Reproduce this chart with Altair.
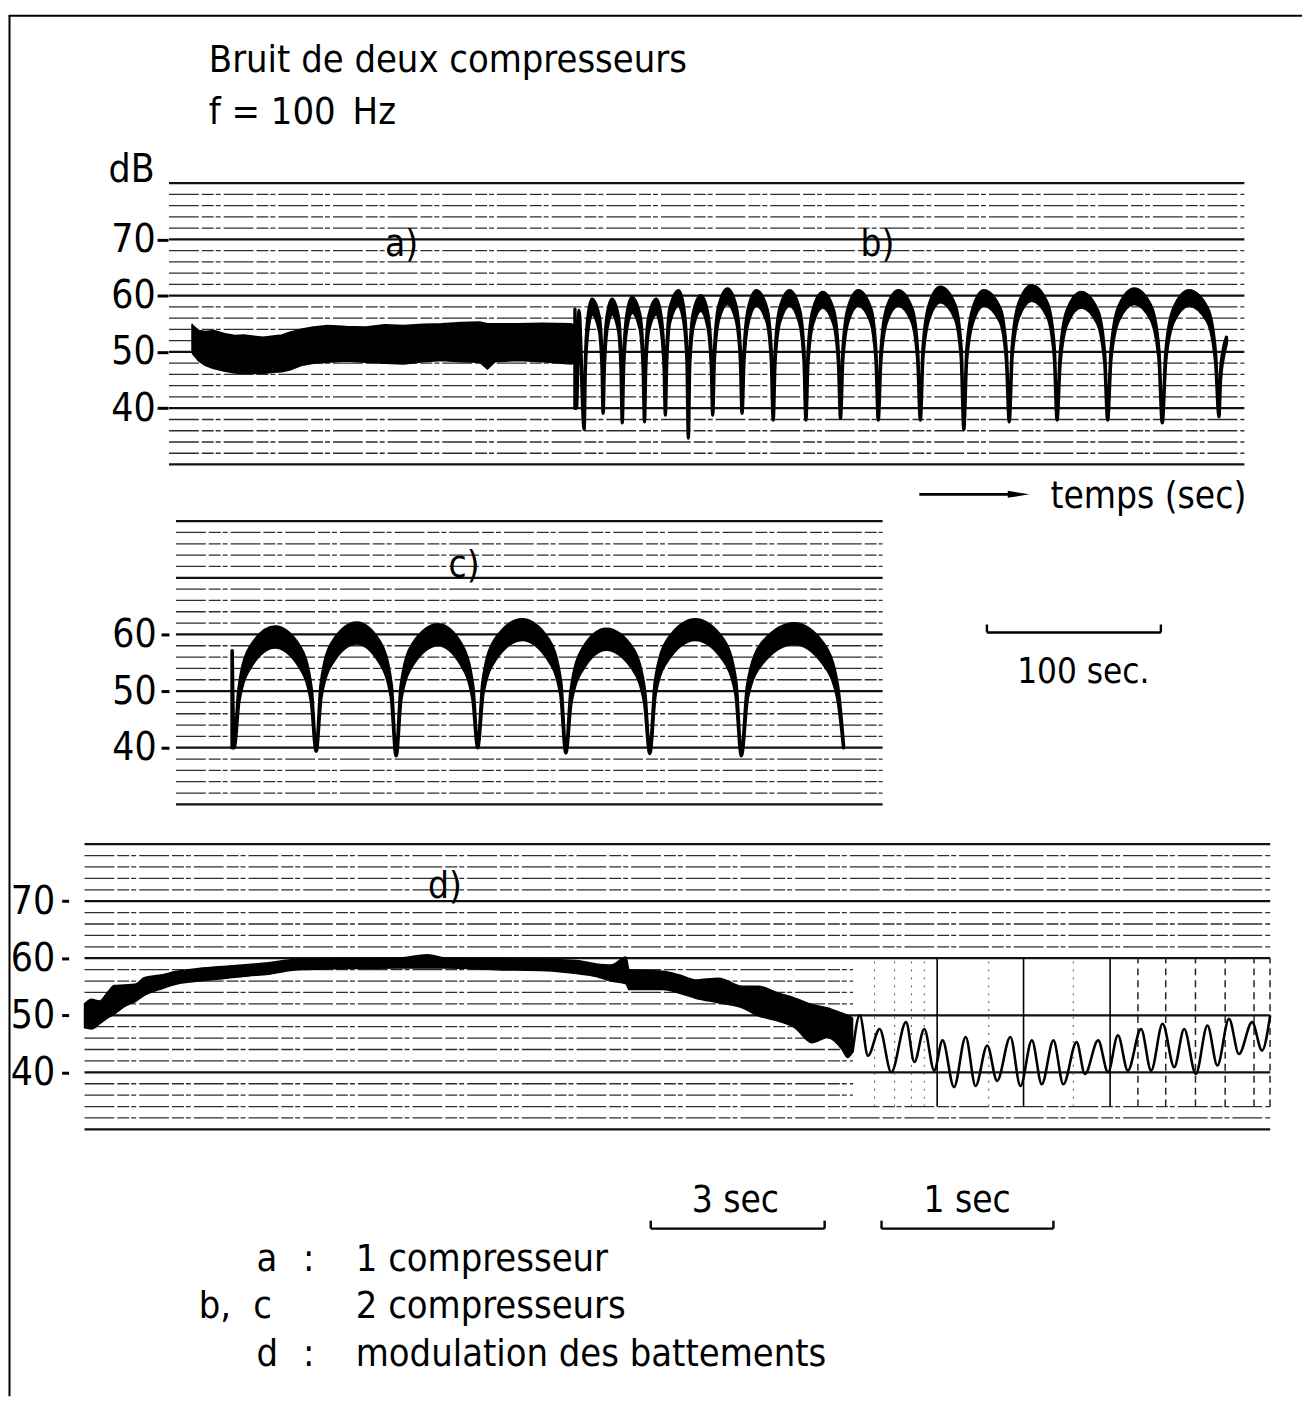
import altair as alt
import pandas as pd

FONT = "DejaVu Sans Condensed"
W, H = 1302, 1392

# ---------------- values ----------------
MAJOR_DB = [30, 40, 50, 60, 70, 80]
MINOR_DB = [32, 34, 36, 38, 42, 44, 46, 48, 52, 54, 56, 58, 62, 64, 66, 68, 72, 74, 76, 78]
D_MINOR_FULL = [32, 34, 62, 64, 66, 68, 72, 74, 76, 78]
D_MINOR_SLOW = [36, 38, 42, 44, 46, 48, 52, 54, 56, 58]
TICKS_ABD = [40, 50, 60, 70]
TICKS_C = [40, 50, 60]

# a) 1 compresseur : noise band envelope (time s, upper dB, lower dB)
A_T = [13.3, 13.6, 16.9, 21.0, 25.6, 32.2, 38.0, 43.1, 54.0, 60.0, 65.0, 69.4, 75.9, 83.0, 91.2,
       102.0, 113.1, 124.0, 135.0, 146.0, 156.8, 168.0, 178.7, 183.1, 187.4, 200.6, 215.0, 231.1, 233.0]
A_HI = [54.9, 54.7, 53.8, 53.6, 53.8, 53.2, 52.9, 53.0, 52.6, 52.8, 53.0, 53.5, 54.0, 54.4, 54.7,
        54.5, 54.4, 54.8, 54.7, 54.9, 55.0, 55.2, 55.3, 55.0, 55.0, 55.0, 55.1, 55.0, 54.8]
A_LO = [50.5, 49.7, 48.5, 47.6, 47.1, 46.6, 46.3, 46.2, 46.2, 46.4, 46.5, 46.8, 47.6, 48.0, 48.2,
        48.4, 48.2, 48.0, 47.9, 48.3, 48.5, 48.3, 48.2, 47.0, 48.3, 48.5, 48.3, 47.9, 48.0]

# b) 2 compresseurs : beats (time s, upper dB, lower dB)
B_POINTS = [
    (233.4, 57.6, 40.0), (234.3, 40.0, 40.0), (235.7, 57.4, 55.6),
    (238.7, 36.2, 36.2),
    (239.4, 48.4, 46.9), (240.9, 56.2, 53.9), (243.2, 59.4, 56.8), (247.4, 56.2, 53.9), (249.0, 48.4, 46.9),
    (249.6, 39.1, 39.1),
    (250.3, 48.4, 46.9), (251.8, 56.2, 53.9), (254.7, 59.4, 56.8), (258.4, 56.2, 53.9), (259.9, 48.4, 46.9),
    (260.6, 37.4, 37.4),
    (261.4, 48.7, 47.2), (263.2, 56.5, 54.2), (266.2, 59.7, 57.1), (270.8, 56.5, 54.2), (272.6, 48.7, 47.2),
    (273.4, 37.6, 37.6),
    (274.1, 48.4, 46.9), (275.8, 56.2, 53.9), (280.2, 59.4, 56.8), (283.0, 56.2, 53.9), (284.7, 48.4, 46.9),
    (285.4, 38.8, 38.8),
    (286.2, 49.9, 48.4), (288.0, 57.7, 55.4), (293.0, 60.9, 58.3), (296.0, 57.7, 55.4), (297.8, 49.9, 48.4),
    (298.6, 34.7, 34.7),
    (299.4, 49.0, 47.5), (301.4, 56.8, 54.5), (305.8, 60.0, 57.4), (309.8, 56.8, 54.5), (311.8, 49.0, 47.5),
    (312.6, 38.8, 38.8),
    (313.6, 50.2, 48.7), (316.0, 58.0, 55.7), (321.1, 61.2, 58.6), (326.1, 58.0, 55.7), (328.5, 50.2, 48.7),
    (329.5, 39.1, 39.1),
    (330.6, 49.9, 48.4), (333.1, 57.7, 55.4), (337.7, 60.9, 58.3), (343.8, 57.7, 55.4), (346.3, 49.9, 48.4),
    (347.4, 37.9, 37.9),
    (348.5, 49.9, 48.4), (351.2, 57.7, 55.4), (356.8, 60.9, 58.3), (362.4, 57.7, 55.4), (365.1, 49.9, 48.4),
    (366.2, 37.9, 37.9),
    (367.4, 49.6, 48.1), (370.2, 57.4, 55.1), (375.9, 60.6, 58.0), (382.1, 57.4, 55.1), (384.9, 49.6, 48.1),
    (386.1, 38.2, 38.2),
    (387.4, 49.9, 48.4), (390.4, 57.7, 55.4), (396.3, 60.9, 58.3), (403.5, 57.7, 55.4), (406.5, 49.9, 48.4),
    (407.8, 37.9, 37.9),
    (409.3, 49.9, 48.4), (412.6, 57.7, 55.4), (419.3, 60.9, 58.3), (427.2, 57.7, 55.4), (430.5, 49.9, 48.4),
    (432.0, 37.9, 37.9),
    (433.5, 50.5, 49.0), (437.0, 58.3, 56.0), (443.5, 61.5, 58.9), (452.0, 58.3, 56.0), (455.5, 50.5, 49.0),
    (457.0, 36.2, 36.2),
    (458.6, 49.9, 48.4), (462.2, 57.7, 55.4), (468.5, 60.9, 58.3), (477.9, 57.7, 55.4), (481.5, 49.9, 48.4),
    (483.1, 37.6, 37.6),
    (484.8, 50.8, 49.3), (488.6, 58.6, 56.3), (496.0, 61.8, 59.2), (505.1, 58.6, 56.3), (509.0, 50.8, 49.3),
    (510.6, 37.9, 37.9),
    (512.4, 49.6, 48.1), (516.4, 57.4, 55.1), (524.5, 60.6, 58.0), (533.9, 57.4, 55.1), (538.0, 49.6, 48.1),
    (539.7, 37.9, 37.9),
    (541.6, 50.2, 48.7), (546.0, 58.0, 55.7), (555.0, 61.2, 58.6), (564.8, 58.0, 55.7), (569.2, 50.2, 48.7),
    (571.1, 37.4, 37.4),
    (573.1, 49.9, 48.4), (577.6, 57.7, 55.4), (586.5, 60.9, 58.3), (597.2, 57.7, 55.4), (601.7, 49.9, 48.4),
    (603.7, 38.5, 38.5),
    (604.6, 46.5, 45.0), (606.2, 50.5, 49.0), (608.0, 52.6, 51.6),
]

# c) 2 compresseurs (time s, upper dB, lower dB)
C_POINTS = [
    (32.3, 57.1, 40.0), (33.4, 40.0, 40.0),
    (36.2, 50.3, 48.3), (42.8, 57.8, 54.3), (57.0, 61.3, 57.8), (71.2, 57.8, 54.3), (77.8, 50.3, 48.3),
    (80.6, 39.4, 39.4),
    (83.4, 51.0, 49.0), (89.8, 58.5, 55.0), (103.9, 62.0, 58.5), (117.4, 58.5, 55.0), (123.8, 51.0, 49.0),
    (126.6, 38.6, 38.6),
    (129.4, 50.7, 48.7), (136.0, 58.2, 54.7), (150.8, 61.7, 58.2), (164.1, 58.2, 54.7), (170.7, 50.7, 48.7),
    (173.5, 40.0, 40.0),
    (176.5, 51.6, 49.6), (183.6, 59.1, 55.6), (199.1, 62.6, 59.1), (214.1, 59.1, 55.6), (221.2, 51.6, 49.6),
    (224.2, 39.1, 39.1),
    (227.1, 49.9, 47.9), (233.8, 57.4, 53.9), (247.4, 60.9, 57.4), (262.8, 57.4, 53.9), (269.5, 49.9, 47.9),
    (272.4, 39.0, 39.0),
    (275.6, 51.6, 49.6), (282.9, 59.1, 55.6), (298.6, 62.6, 59.1), (314.6, 59.1, 55.6), (321.9, 51.6, 49.6),
    (325.1, 38.6, 38.6),
    (328.6, 50.9, 48.9), (336.9, 58.4, 54.9), (355.5, 61.9, 58.4), (372.1, 58.4, 54.9), (380.4, 50.9, 48.9),
    (383.9, 40.0, 40.0),
]

# d) modulation des battements, slow paper speed : ripple envelope (time s, upper dB, lower dB)
DS_POINTS = [
    (0.0, 52.0, 47.8), (0.12, 52.8, 47.6), (0.257, 52.5, 48.5), (0.394, 54.0, 49.5), (0.514, 55.2, 50.2),
    (0.686, 55.3, 51.5), (0.891, 55.5, 52.5), (1.029, 56.6, 53.5), (1.286, 57.0, 54.5), (1.594, 57.7, 55.5),
    (1.972, 58.2, 56.0), (2.452, 58.6, 56.5), (2.829, 58.9, 56.9), (3.172, 59.2, 57.2), (3.515, 59.7, 57.8),
    (3.686, 59.8, 58.0), (4.543, 59.9, 58.2), (5.400, 60.0, 58.3), (5.915, 60.6, 58.3), (6.258, 60.0, 58.3),
    (7.115, 59.9, 58.0), (7.972, 59.8, 57.8), (8.486, 59.6, 57.3), (8.829, 59.0, 56.8), (9.086, 58.8, 56.0),
    (9.343, 60.2, 55.5), (9.395, 58.0, 54.5), (9.978, 57.7, 54.5), (10.252, 57.1, 53.9), (10.544, 56.2, 53.0),
    (10.938, 56.5, 52.2), (11.349, 55.1, 51.3), (11.624, 55.1, 49.9), (11.967, 53.9, 49.0), (12.258, 53.0, 47.8),
    (12.549, 51.9, 45.2), (12.824, 51.3, 46.1), (13.064, 50.4, 44.1), (13.167, 50.0, 42.6), (13.252, 49.5, 43.5),
]
# d) fast paper speed : single beat trace (time s, dB)
DF_POINTS = [
    (13.252, 43.5), (13.319, 50.0), (13.366, 42.9), (13.433, 47.6), (13.500, 40.0), (13.585, 48.8),
    (13.633, 41.8), (13.690, 47.6), (13.747, 40.3), (13.795, 45.6), (13.861, 37.4), (13.928, 46.2),
    (13.985, 37.6), (14.052, 44.7), (14.109, 38.5), (14.185, 46.2), (14.243, 37.6), (14.309, 45.6),
    (14.366, 37.9), (14.433, 45.6), (14.490, 37.9), (14.566, 45.3), (14.614, 39.7), (14.690, 45.6),
    (14.747, 40.0), (14.804, 46.5), (14.861, 40.3), (14.937, 47.6), (14.995, 40.3), (15.061, 48.5),
    (15.128, 40.9), (15.185, 47.6), (15.252, 39.7), (15.319, 48.2), (15.376, 41.2), (15.443, 49.4),
    (15.500, 43.2), (15.576, 48.8), (15.633, 43.8), (15.680, 50.0),
]
# time marks on the fast part of d)
D_MARK_SOLID = [13.764, 14.261, 14.759]
D_MARK_DASH = [14.919, 15.079, 15.250, 15.421, 15.587, 15.679]
D_MARK_DOT = [13.404, 13.519, 13.616, 13.690, 14.061, 14.547]
D_MARK_DB = [34, 60]
D_BREAK = 13.26

# annotation anchors (panel time, panel dB)
TITLE_T = [22.9, 22.9]
TITLE_DB = [99.8, 90.6]
TITLE_S = ["Bruit de deux compresseurs", "f = 100\u2002Hz"]
AB_LAB_T = [133.7, 407.4]
AB_LAB_DB = [69.0, 69.0]
AB_LAB_S = ["a)", "b)"]
TEMPS = (506.8, 22.2, "temps (sec)")
ARROW_T = [431.4, 484.0]
ARROW_HEAD_T = 488.5
ARROW_DB = 24.7
C_LAB = (165.7, 72.1, "c)")
D_LAB = (6.22, 72.5, "d)")
BAR_100 = (466.3, 566.3, 60.35, 61.75)
BAR_100_TXT = (521.7, 51.4, "100 sec.")
BAR_3 = (9.77, 12.77, 12.6, 14.0)
BAR_1 = (13.444, 14.433, 12.6, 14.0)
BAR_D_TXT_T = [11.23, 13.936]
BAR_D_TXT_DB = [15.5, 15.5]
BAR_D_TXT_S = ["3 sec", "1 sec"]
LEG_T = [2.966, 3.77, 4.68, 1.97, 2.91, 4.68, 2.966, 3.77, 4.68]
LEG_DB = [5.1, 5.1, 5.1, -3.1, -3.1, -3.1, -11.5, -11.5, -11.5]
LEG_S = ["a", ":", "1 compresseur", "b,", "c", "2 compresseurs", "d", ":", "modulation des battements"]

# ---------------- scales of the three recordings ----------------
DB_DOM = [30, 80]
PANELS = {
    "ab": ([0, 618.3], [162, 1244], [455, 172]),
    "c": ([0, 406.3], [169, 880], [797, 512]),
    "d": ([0, 13.29, 15.68], [77, 852, 1270], [1124, 837]),
}


def xs(p, field):
    dom, xr, _ = PANELS[p]
    return alt.X(field, type="quantitative",
                 scale=alt.Scale(domain=dom, range=xr, nice=False, zero=False), axis=None)


def ys(p, field, axis=None):
    _, _, yr = PANELS[p]
    return alt.Y(field, type="quantitative",
                 scale=alt.Scale(domain=DB_DOM, range=yr, nice=False, zero=False), axis=axis)


def left_axis(values, pos, tick, pad, **kw):
    return alt.Axis(orient="left", values=values, offset=-pos, tickSize=tick, tickWidth=3,
                    tickColor="black", labelPadding=pad, labelFont=FONT, labelFontSize=39,
                    labelColor="black", domain=False, grid=False, labelOverlap=False, **kw)


def grid(p, levels, t0, t1, major, axis=None):
    df = pd.DataFrame({"db": levels, "t0": [t0] * len(levels), "t1": [t1] * len(levels)})
    if major:
        m = alt.Chart(df).mark_rule(color="#111111", strokeWidth=2.3)
    else:
        m = alt.Chart(df).mark_rule(color="#2e2e2e", strokeWidth=1.3, strokeDash=[30, 3, 12, 2, 5, 3])
    return m.encode(x=xs(p, "t0"), x2=alt.X2("t1"), y=ys(p, "db", axis))


def band(p, pts, sw, interp):
    df = pd.DataFrame(pts, columns=["t", "hi", "lo"])
    return alt.Chart(df).mark_area(color="black", stroke="black", strokeWidth=sw,
                                   interpolate=interp, strokeJoin="round").encode(
        x=xs(p, "t"), y=ys(p, "hi"), y2=alt.Y2("lo"))


def texts(p, T, D, S, size, align, baseline):
    df = pd.DataFrame({"t": T, "db": D, "s": S})
    return alt.Chart(df).mark_text(font=FONT, fontSize=size, align=align, baseline=baseline,
                                   color="black").encode(x=xs(p, "t"), y=ys(p, "db"), text="s:N")


def segments(p, rows, sw=2.5, dash=None, color="black"):
    df = pd.DataFrame(rows, columns=["t0", "t1", "d0", "d1"])
    kw = dict(color=color, strokeWidth=sw, strokeCap="butt")
    if dash:
        kw["strokeDash"] = dash
    return alt.Chart(df).mark_rule(**kw).encode(
        x=xs(p, "t0"), x2=alt.X2("t1"), y=ys(p, "d0"), y2=alt.Y2("d1"))


def bar_rows(b):
    t0, t1, y0, y1 = b
    return [(t0, t1, y0, y0), (t0, t0, y0, y1), (t1, t1, y0, y1)]


layers = []

# outer frame (top and left border) drawn as axis domains
frame = alt.Chart(pd.DataFrame({"fx": [0, 1], "fy": [0, 1]})).mark_point(opacity=0).encode(
    x=alt.X("fx:Q", scale=alt.Scale(domain=[0, 1], range=[0, W], nice=False, zero=False),
            axis=alt.Axis(orient="top", offset=-3, domain=True, domainColor="black", domainWidth=2,
                          ticks=False, labels=False, grid=False, title=None)),
    y=alt.Y("fy:Q", scale=alt.Scale(domain=[0, 1], range=[H, 3], nice=False, zero=False),
            axis=alt.Axis(orient="left", offset=-1, domain=True, domainColor="black", domainWidth=2,
                          ticks=False, labels=False, grid=False, title=None)),
)
layers.append(frame)

# ---- panel a / b ----
ab_dom = PANELS["ab"][0]
layers.append(grid("ab", MINOR_DB, ab_dom[0], ab_dom[-1], False))
layers.append(grid("ab", MAJOR_DB, ab_dom[0], ab_dom[-1], True,
                   left_axis(TICKS_ABD, 161, 11, 2, title="dB", titleAngle=0, titleX=-14, titleY=170,
                             titleAlign="right", titleBaseline="alphabetic", titleFont=FONT,
                             titleFontSize=39, titleFontWeight="normal", titleColor="black")))
layers.append(band("ab", list(zip(A_T, A_HI, A_LO)), 1.8, "linear"))
layers.append(band("ab", B_POINTS, 3.4, "monotone"))
layers.append(texts("ab", TITLE_T, TITLE_DB, TITLE_S, 38, "left", "alphabetic"))
layers.append(texts("ab", AB_LAB_T, AB_LAB_DB, AB_LAB_S, 37, "center", "middle"))
layers.append(texts("ab", [TEMPS[0]], [TEMPS[1]], [TEMPS[2]], 37, "left", "alphabetic"))
layers.append(segments("ab", [(ARROW_T[0], ARROW_T[1], ARROW_DB, ARROW_DB)], sw=2.8))
layers.append(alt.Chart(pd.DataFrame({"t": [ARROW_HEAD_T], "db": [ARROW_DB]})).mark_point(
    shape="M -1 -0.32 L 1 0 L -1 0.32 Z", size=480, filled=True, color="black", opacity=1).encode(
    x=xs("ab", "t"), y=ys("ab", "db")))

# ---- panel c ----
c_dom = PANELS["c"][0]
layers.append(grid("c", MINOR_DB, c_dom[0], c_dom[-1], False))
layers.append(grid("c", MAJOR_DB, c_dom[0], c_dom[-1], True,
                   left_axis(TICKS_C, 162, 8, 5, title=None)))
layers.append(band("c", C_POINTS, 3.6, "monotone"))
layers.append(texts("c", [C_LAB[0]], [C_LAB[1]], [C_LAB[2]], 37, "center", "middle"))
layers.append(segments("c", bar_rows(BAR_100), sw=2.4))
layers.append(texts("c", [BAR_100_TXT[0]], [BAR_100_TXT[1]], [BAR_100_TXT[2]], 35, "center", "alphabetic"))

# ---- panel d ----
d_dom = PANELS["d"][0]
layers.append(grid("d", D_MINOR_FULL, d_dom[0], d_dom[-1], False))
layers.append(grid("d", D_MINOR_SLOW, d_dom[0], D_BREAK, False))
layers.append(grid("d", MAJOR_DB, d_dom[0], d_dom[-1], True,
                   left_axis(TICKS_ABD, 61, 7, 7, title=None)))
layers.append(segments("d", [(t, t, D_MARK_DB[0], D_MARK_DB[1]) for t in D_MARK_SOLID], sw=1.6))
layers.append(segments("d", [(t, t, D_MARK_DB[0], D_MARK_DB[1]) for t in D_MARK_DASH], sw=1.5,
                       dash=[7, 5], color="#222222"))
layers.append(segments("d", [(t, t, D_MARK_DB[0], D_MARK_DB[1]) for t in D_MARK_DOT], sw=1.0,
                       dash=[2, 6], color="#555555"))
layers.append(band("d", DS_POINTS, 1.5, "monotone"))
layers.append(alt.Chart(pd.DataFrame(DF_POINTS, columns=["t", "db"])).mark_line(
    color="black", strokeWidth=2.6, interpolate="monotone").encode(x=xs("d", "t"), y=ys("d", "db")))
layers.append(texts("d", [D_LAB[0]], [D_LAB[1]], [D_LAB[2]], 37, "center", "middle"))
layers.append(segments("d", bar_rows(BAR_3) + bar_rows(BAR_1), sw=2.4))
layers.append(texts("d", BAR_D_TXT_T, BAR_D_TXT_DB, BAR_D_TXT_S, 37, "center", "alphabetic"))
layers.append(texts("d", LEG_T, LEG_DB, LEG_S, 38, "left", "alphabetic"))

chart = alt.layer(*layers).resolve_scale(x="independent", y="independent").properties(
    width=W, height=H, autosize=alt.AutoSizeParams(type="none"), padding=0
).configure_view(strokeWidth=0)

chart.save("out.html", embed_options={"renderer": "svg", "actions": False})
